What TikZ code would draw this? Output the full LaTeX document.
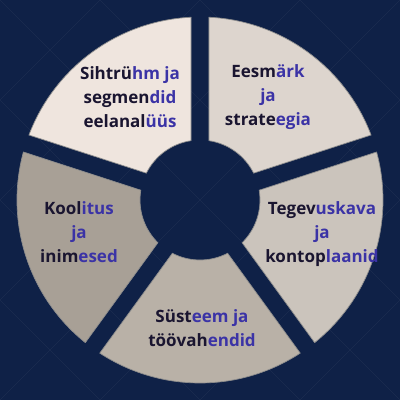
\documentclass[tikz,border=0pt]{standalone}
\usepackage{fontspec}
\setmainfont{Open Sans}
\definecolor{navy}{HTML}{0F2147}
\definecolor{txtdark}{HTML}{1A1530}
\definecolor{txtblue}{HTML}{3B33A6}
\definecolor{segA}{HTML}{EFE5DE}
\definecolor{segB}{HTML}{DDD5CE}
\definecolor{segC}{HTML}{CBC4BC}
\definecolor{segD}{HTML}{B9B1A7}
\definecolor{segE}{HTML}{A8A096}
\tikzset{
  segment/.style = {draw=black!45, line width=0.7pt},
  seglabel/.style = {align=center, text=txtblue,
    font=\fontsize{17}{24}\selectfont\bfseries}
}
\newcommand\dk[1]{\textcolor{txtdark}{#1}}

\begin{document}
\begin{tikzpicture}[x=1pt,y=1pt]
  \useasboundingbox (0,0) rectangle (400,400);
  \fill[navy] (0,0) rectangle (400,400);
  % faint diamond grid
  \begin{scope}
    \clip (0,0) rectangle (400,400);
    \foreach \k in {-400,-300,...,400}
      \draw[white,opacity=0.05] (\k,0) -- +(400,400) (\k+400,0) -- +(-400,400);
  \end{scope}
  % ring segments
  \begin{scope}[shift={(200,200)}]
    \foreach \a/\col in {90/segA,18/segB,-54/segC,-126/segD,162/segE}
      \draw[segment,fill=\col] (\a+2.8:183)
        arc[start angle=\a+2.8, end angle=\a+69.2, radius=183]
        -- (\a+63.4:60)
        arc[start angle=\a+63.4, end angle=\a+8.6, radius=60] -- cycle;
  \end{scope}
  \node[seglabel] (target) at (130,303) {\dk{Sihtrü}hm ja\\ \dk{segmen}did\\ \dk{eelanal}üüs};
  \node[seglabel] (goal)   at (268,303) {\dk{Eesm}ärk\\ ja\\ \dk{strate}egia};
  \node[seglabel] (plan)   at (322,166) {\dk{Tegev}uskava\\ ja\\ \dk{kontop}laanid};
  \node[seglabel] (tools)  at (202,72)  {\dk{Süst}eem ja\\ \dk{töövah}endid};
  \node[seglabel] (people) at (79,168)  {\dk{Kool}itus\\ ja\\ \dk{inim}esed};
\end{tikzpicture}
\end{document}
